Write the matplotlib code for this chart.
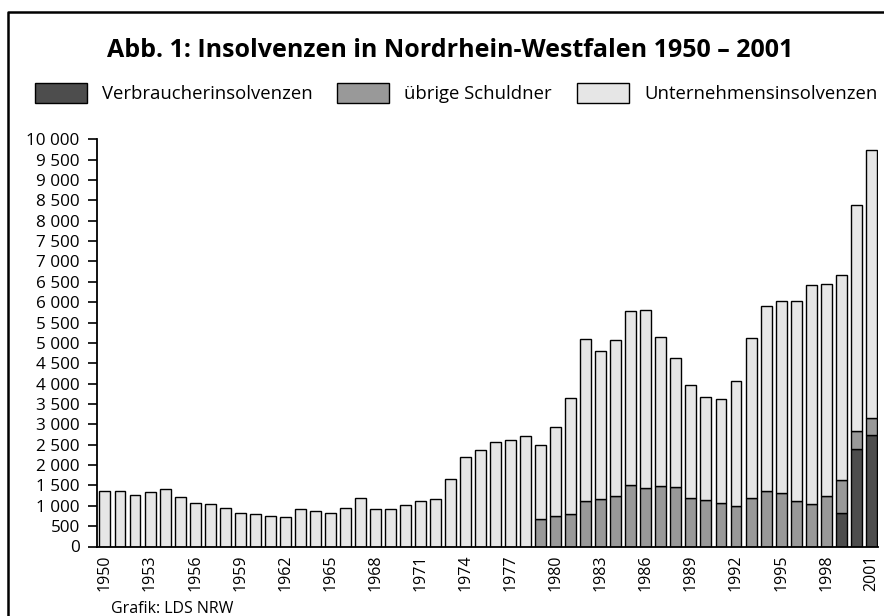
import matplotlib
matplotlib.use('Agg')
import matplotlib.pyplot as plt
from matplotlib.patches import Rectangle
from matplotlib.lines import Line2D
from matplotlib.ticker import FuncFormatter, MultipleLocator
import numpy as np

plt.rcParams['font.family'] = ['Open Sans', 'DejaVu Sans']

years = list(range(1950, 2002))

# Verbraucherinsolvenzen (erst ab 1999)
verbraucher = [0] * 49 + [824, 2397, 2734]

# übrige Schuldner (ab 1979)
uebrige = [0] * 29 + [
    669, 750, 799, 1119, 1168, 1234, 1500, 1446, 1495, 1456,
    1200, 1143, 1062, 996, 1185, 1365, 1323, 1119, 1038, 1249,
    811, 450, 426,
]

# Unternehmensinsolvenzen
unternehmen = [
    1370, 1370, 1262, 1336, 1418, 1213, 1074, 1041, 951, 828,
    803, 754, 730, 910, 869, 828, 934, 1197, 926, 920,
    1020, 1126, 1160, 1652, 2208, 2373, 2577, 2611, 2710,
    1834, 2188, 2845, 3976, 3639, 3846, 4273, 4362, 3639, 3162,
    2771, 2525, 2572, 3066, 3934, 4548, 4713, 4917, 5392, 5198,
    5024, 5533, 6589,
]

labels = ['Verbraucherinsolvenzen', 'übrige Schuldner', 'Unternehmensinsolvenzen']
colors = ['#4d4d4d', '#999999', '#e6e6e6']

W, H = 884, 616
fig = plt.figure(figsize=(W / 100, H / 100), dpi=100, facecolor='white')
ax = fig.add_axes([97 / W, 69.5 / H, 781 / W, 407.2 / H])

x = np.arange(len(years))
v = np.array(verbraucher)
u = np.array(uebrige)
n = np.array(unternehmen)
bw = 0.73
ax.bar(x, v, bw, color=colors[0], edgecolor='black', linewidth=1)
ax.bar(x, u, bw, bottom=v, color=colors[1], edgecolor='black', linewidth=1)
ax.bar(x, n, bw, bottom=v + u, color=colors[2], edgecolor='black', linewidth=1)

ax.set_xlim(-0.53, len(years) - 0.55)
ax.set_ylim(0, 10000)
ax.yaxis.set_major_locator(MultipleLocator(500))
ax.yaxis.set_major_formatter(FuncFormatter(lambda val, pos: f'{int(val):,}'.replace(',', ' ')))
ax.set_xticks(x[::3])
ax.set_xticklabels([str(y) for y in years[::3]], rotation=90)
ax.tick_params(axis='x', length=0, pad=6, labelsize=11.5)
ax.tick_params(axis='y', length=6.5, width=1.2, pad=6, labelsize=12.3)
for s in ['top', 'right']:
    ax.spines[s].set_visible(False)
ax.spines['left'].set_linewidth(1.3)
ax.spines['bottom'].set_linewidth(1.3)

# Titel
fig.text(450 / W, 1 - 56.7 / H, 'Abb. 1: Insolvenzen in Nordrhein-Westfalen 1950 – 2001',
         ha='center', va='baseline', fontsize=18, fontweight='bold')

# Legende
patch_x = [35, 337, 577]
for px, lab, col in zip(patch_x, labels, colors):
    fig.patches.append(Rectangle((px / W, 1 - 102.7 / H), 52 / W, 19.4 / H,
                                 transform=fig.transFigure, facecolor=col,
                                 edgecolor='black', linewidth=1))
    fig.text((px + 67) / W, 1 - 94 / H, lab, ha='left', va='center', fontsize=13.3)

fig.text(111 / W, 1 - 609 / H, 'Grafik: LDS NRW', ha='left', va='center', fontsize=11.5)

# Rahmen (nur links und oben sichtbar)
fig.lines.append(Line2D([8 / W, 8 / W, 1.01], [-0.01, 1 - 12 / H, 1 - 12 / H],
                        transform=fig.transFigure, color='black', linewidth=1.8))

fig.savefig('out.png', dpi=100, facecolor='white')
